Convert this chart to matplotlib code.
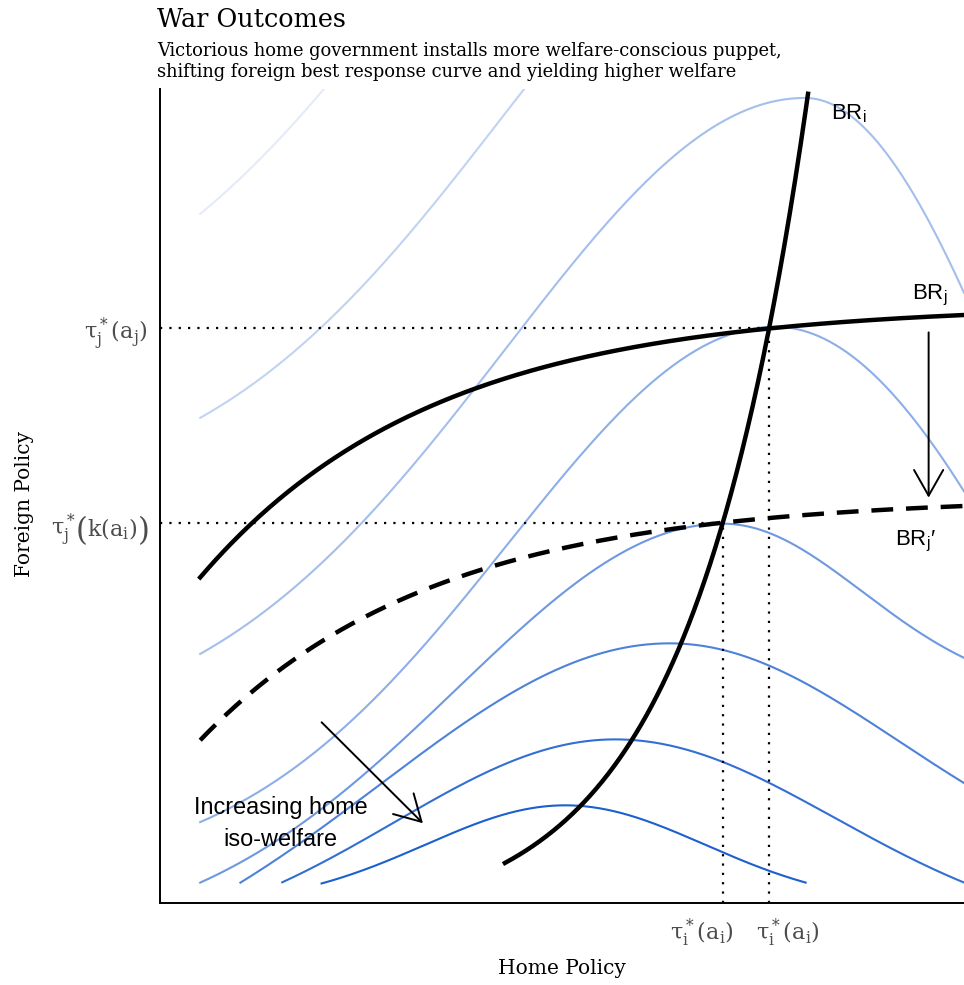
import numpy as np
import matplotlib
matplotlib.use('Agg')
import matplotlib.pyplot as plt
from matplotlib.offsetbox import TextArea, HPacker, AnnotationBbox

plt.rcParams['font.family'] = ['DejaVu Serif']
plt.rcParams['mathtext.default'] = 'regular'
SANS = ['Liberation Sans', 'DejaVu Sans']
GREY = '#4d4d4d'

# home iso-welfare curves, highest welfare (bottom) first
iso_center = [5.04, 5.66, 6.34, 7.00, 7.65, 8.02, 8.02, 6.97]
iso_peak = [1.20, 2.01, 3.19, 4.66, 7.08, 9.89, 12.79, 14.58]
iso_amp_left = [1.23, 2.58, 4.42, 5.16, 6.74, 7.86, 7.86, 7.86]
iso_width_left = [1.74, 2.74, 3.61, 3.31, 3.31, 3.73, 3.73, 3.73]
iso_amp_right = [1.23, 2.46, 3.07, 2.13, 12.3, 12.3, 12.3, 12.3]
iso_width_right = [1.74, 2.74, 2.86, 1.74, 3.92, 3.01, 3.01, 3.01]
iso_start = [2.01, 1.52, 1.00, 0.50, 0.50, 0.50, 0.50, 0.50]
iso_end = [8.03, 10.0, 10.0, 10.0, 10.0, 10.0, 6.0, 3.0]
iso_alpha = [1.0, 0.9, 0.78, 0.64, 0.5, 0.4, 0.27, 0.12]
iso_color = '#1c5fcf'

# foreign best response before / after the war: level - gap * exp(-(x - x0) / decay)
brj_level, brj_gap = 7.35, 3.35
brj_new_level, brj_new_gap = 4.99, 2.99
br_decay, br_x0 = 2.90, 0.50
# home best response: scale * exp(rate * (x - start)) - shift
bri_scale, bri_rate, bri_shift = 0.779, 0.683, 0.287
bri_start, bri_end = 4.29, 8.06

tick_eq = r'$\tau_j^*(a_j)$'
tick_home = r'$\tau_i^*(a_i)$'


def iso_curve(x, c, peak, a_l, s_l, a_r, s_r):
    a = np.where(x < c, a_l, a_r)
    s = np.where(x < c, s_l, s_r)
    return peak - a * (1 - np.exp(-(x - c) ** 2 / (2 * s ** 2)))


def br_j(x, level, gap):
    return level - gap * np.exp(-(x - br_x0) / br_decay)


def br_i(x):
    return bri_scale * np.exp(bri_rate * (x - bri_start)) - bri_shift


fig = plt.figure(figsize=(9.64, 9.85), dpi=100)
ax = fig.add_axes([160 / 964, 82 / 985, 804 / 964, 814 / 985])

for i in range(len(iso_center)):
    x = np.linspace(iso_start[i], iso_end[i], 400)
    y = iso_curve(x, iso_center[i], iso_peak[i], iso_amp_left[i], iso_width_left[i],
                  iso_amp_right[i], iso_width_right[i])
    ax.plot(x, y, color=iso_color, alpha=iso_alpha[i], lw=1.5, zorder=2)

xj = np.linspace(br_x0, 10, 400)
ax.plot(xj, br_j(xj, brj_level, brj_gap), color='black', lw=3.2, zorder=4)
ax.plot(xj, br_j(xj, brj_new_level, brj_new_gap), color='black', lw=3.2,
        dashes=(4.9, 2.9), zorder=4)
xi = np.linspace(bri_start, bri_end, 400)
ax.plot(xi, br_i(xi), color='black', lw=3.2, zorder=4)

# equilibria: where BR_i meets the two foreign best responses
grid = np.linspace(bri_start, bri_end, 20000)
eq_x, eq_y = [], []
for level, gap in [(brj_new_level, brj_new_gap), (brj_level, brj_gap)]:
    k = np.argmin(np.abs(br_i(grid) - br_j(grid, level, gap)))
    eq_x.append(grid[k])
    eq_y.append(br_j(grid[k], level, gap))

for x0, y0 in zip(eq_x, eq_y):
    ax.plot([0, x0], [y0, y0], color='black', lw=1.6, dashes=(1, 3.2), zorder=3)
    ax.plot([x0, x0], [0, y0], color='black', lw=1.6, dashes=(1, 3.2), zorder=3)

ax.set_xlim(0, 10)
ax.set_ylim(0, 10)
ax.set_xticks([])
ax.set_yticks([])
for s in ['top', 'right']:
    ax.spines[s].set_visible(False)
for s in ['left', 'bottom']:
    ax.spines[s].set_linewidth(1.4)

# axis labels at the equilibrium policies
ax.annotate(tick_eq, xy=(0, eq_y[1]), xycoords=ax.get_yaxis_transform(),
            xytext=(-12, -5), textcoords='offset pixels', ha='right', va='center',
            fontsize=16, color=GREY, annotation_clip=False)

small = dict(fontsize=16, color=GREY)
big = dict(fontsize=22, color=GREY, math_fontfamily='cm')
label_box = HPacker(children=[TextArea(r'$\tau_j^*$', textprops=small),
                              TextArea(r'$($', textprops=big),
                              TextArea(r'$k(a_i)$', textprops=small),
                              TextArea(r'$)$', textprops=big)],
                    align='center', pad=0, sep=0)
ax.add_artist(AnnotationBbox(label_box, (0, eq_y[0]), xycoords=ax.get_yaxis_transform(),
                             xybox=(-8, -5), boxcoords='offset points',
                             box_alignment=(1, 0.5), frameon=False, pad=0,
                             annotation_clip=False))

for x0, dx in zip(eq_x, [-21, 19]):
    ax.annotate(tick_home, xy=(x0, 0), xytext=(dx, -30), textcoords='offset pixels',
                ha='center', va='center', fontsize=16, color=GREY,
                annotation_clip=False)

# arrows
arrow = dict(arrowstyle='->,head_length=1.85,head_width=1.05', lw=1.4, color='black',
             shrinkA=0, shrinkB=0)
ax.annotate('', xy=(3.27, 0.98), xytext=(2.01, 2.22), arrowprops=arrow)
ax.annotate('', xy=(9.56, 4.98), xytext=(9.56, 7.01), arrowprops=arrow)

ax.text(1.5, 0.98, 'Increasing home\niso-welfare', family=SANS, fontsize=16.9,
        ha='center', va='center', linespacing=1.5)
ax.text(8.34, 9.7, r'$BR_i$', family=SANS, fontsize=16, ha='left', va='center')
ax.text(9.35, 7.46, r'$BR_j$', family=SANS, fontsize=16, ha='left', va='center')
ax.text(9.14, 4.44, r'$BR_j$' + '\u2032', family=SANS, fontsize=16, ha='left', va='center')

ax.set_xlabel('Home Policy', fontsize=14.5, labelpad=40)
ax.set_ylabel('Foreign Policy', fontsize=14.5)
ax.yaxis.set_label_coords(-0.157, 0.49)

fig.text(157 / 964, 1 - 27 / 985, 'War Outcomes', fontsize=18.4, va='baseline')
fig.text(157 / 964, 1 - 77 / 985,
         'Victorious home government installs more welfare-conscious puppet,\n'
         'shifting foreign best response curve and yielding higher welfare',
         fontsize=12.9, va='baseline', linespacing=1.2)

fig.savefig('out.png', dpi=100)
plt.close(fig)
